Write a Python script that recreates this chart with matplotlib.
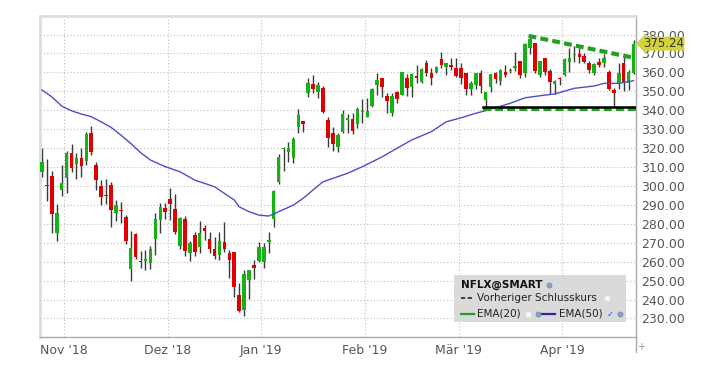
import matplotlib
matplotlib.use("Agg")
import matplotlib.pyplot as plt
from matplotlib.lines import Line2D
from matplotlib.patches import Rectangle
from matplotlib.ticker import FormatStrFormatter
import matplotlib.transforms as mtransforms
import numpy as np
import pandas as pd

GREEN, RED, WICK = "#14b214", "#e00000", "#3a3a3a"
EMA_BLUE = "#4e4ec8"
TREND_GREEN = "#22a022"
GRID = "#bdbdbd"
TXT = "#555555"

# NFLX daily candles, 25 Oct 2018 .. 22 Apr 2019 (trading days only)
holidays = ["2018-11-22", "2018-12-05", "2018-12-25", "2019-01-01",
            "2019-01-21", "2019-02-18", "2019-04-19"]
dates = pd.bdate_range("2018-10-25", "2019-04-22")
dates = dates[~dates.isin(pd.to_datetime(holidays))]

opens = [307.5, 300.5, 305.2, 275.3, 297.7, 304.4, 317.6, 311.6, 314.6, 313.2,
         328.1, 311.0, 300.0, 295.0, 300.5, 285.5, 287.1, 283.8, 256.0, 274.6,
         260.0, 260.5, 259.5, 272.0, 282.0, 288.2, 293.1, 287.8, 268.3, 282.3,
         264.4, 274.1, 267.9, 277.6, 271.8, 266.7, 263.5, 270.2, 264.7, 265.3,
         242.4, 234.5, 250.3, 258.2, 260.5, 260.0, 270.3, 282.3, 302.0, 319.3,
         318.1, 314.9, 331.3, 334.3, 349.2, 353.8, 349.8, 351.5, 334.8, 327.8,
         320.4, 328.6, 335.0, 335.5, 333.0, 339.0, 336.6, 342.4, 353.3, 356.9,
         347.5, 338.7, 349.5, 348.0, 356.9, 352.1, 358.1, 355.1, 364.8, 359.8,
         360.0, 367.1, 363.0, 363.7, 362.1, 362.2, 359.5, 351.2, 353.3, 359.9,
         345.3, 352.1, 359.5, 355.6, 360.4, 360.9, 362.2, 366.2, 359.5, 372.7,
         375.4, 358.6, 367.4, 360.7, 353.8, 356.9, 358.6, 365.7, 369.1, 369.7,
         368.7, 365.1, 359.9, 365.7, 364.8, 360.4, 350.7, 354.2, 364.8, 354.6,
         359.5]
highs = [319.9, 314.0, 307.9, 290.5, 311.0, 318.4, 322.0, 317.2, 319.9, 328.7,
         331.8, 312.8, 303.1, 303.5, 302.3, 292.6, 291.7, 284.6, 276.4, 275.3,
         265.6, 266.1, 268.3, 285.9, 290.8, 290.8, 298.7, 295.7, 283.8, 284.3,
         271.1, 275.5, 281.6, 279.3, 275.8, 273.2, 275.8, 280.8, 266.1, 265.3,
         248.5, 255.6, 255.6, 260.9, 270.5, 269.8, 275.8, 297.8, 316.8, 320.6,
         323.4, 325.7, 340.6, 334.5, 356.8, 358.6, 355.1, 352.9, 336.6, 331.3,
         327.8, 340.1, 338.0, 338.3, 341.9, 345.8, 346.3, 351.6, 359.9, 356.9,
         348.9, 348.9, 350.3, 360.0, 359.1, 359.5, 363.9, 362.1, 366.5, 362.1,
         363.4, 370.9, 365.1, 367.4, 367.4, 364.8, 359.9, 355.6, 359.6, 361.3,
         349.8, 358.9, 360.4, 361.6, 363.9, 362.2, 371.0, 366.2, 375.4, 378.5,
         375.4, 366.2, 367.8, 361.6, 356.0, 357.8, 367.4, 372.7, 373.9, 372.7,
         370.1, 366.2, 364.8, 367.4, 369.7, 361.3, 351.6, 364.8, 368.3, 361.3,
         377.1]
lows = [304.9, 292.2, 275.0, 270.9, 294.7, 296.4, 307.5, 303.5, 304.9, 311.0,
        316.3, 297.8, 289.9, 290.5, 278.1, 281.6, 280.2, 269.3, 250.0, 261.2,
        256.8, 255.6, 255.9, 263.5, 275.3, 282.5, 282.0, 274.6, 266.7, 263.1,
        260.5, 263.0, 264.7, 271.4, 264.4, 261.2, 260.9, 264.9, 251.2, 241.1,
        233.6, 231.3, 240.1, 250.7, 259.6, 256.6, 264.4, 278.5, 301.0, 307.9,
        312.8, 312.3, 328.1, 328.6, 346.8, 348.9, 346.3, 338.7, 320.4, 318.4,
        318.1, 328.1, 328.1, 327.4, 330.4, 333.1, 336.3, 341.9, 348.1, 346.8,
        338.7, 337.0, 343.7, 348.0, 347.5, 347.2, 354.2, 354.2, 358.1, 353.3,
        359.5, 362.5, 358.6, 361.3, 357.4, 353.9, 348.1, 348.1, 351.1, 349.3,
        341.5, 349.8, 354.2, 353.4, 357.7, 359.5, 360.9, 356.9, 357.4, 369.7,
        359.9, 357.4, 358.6, 348.6, 348.6, 353.4, 358.3, 360.4, 365.7, 364.8,
        364.8, 359.5, 358.6, 363.0, 363.0, 350.7, 341.6, 351.1, 350.4, 350.7,
        359.1]
closes = [312.8, 300.0, 285.2, 285.5, 301.7, 317.2, 309.3, 314.9, 310.7, 327.4,
          318.1, 303.1, 294.0, 294.7, 287.3, 289.9, 286.9, 271.1, 267.0, 262.6,
          259.6, 261.4, 266.7, 282.5, 288.7, 286.4, 290.3, 275.5, 282.9, 265.6,
          270.0, 265.3, 275.0, 276.4, 266.7, 263.2, 270.9, 266.7, 260.9, 246.4,
          234.1, 253.5, 255.6, 256.5, 267.6, 267.7, 271.2, 297.6, 315.3, 320.3,
          320.0, 324.6, 337.5, 333.0, 354.6, 351.4, 353.2, 339.1, 325.2, 322.0,
          326.7, 338.0, 335.7, 328.9, 340.6, 339.5, 339.8, 351.3, 355.8, 352.2,
          344.7, 347.6, 345.7, 360.0, 351.8, 359.1, 356.9, 361.9, 359.9, 357.0,
          363.0, 363.9, 365.0, 362.9, 358.1, 357.3, 351.0, 354.3, 359.6, 352.6,
          349.7, 358.9, 356.3, 361.2, 358.8, 361.5, 363.4, 358.8, 375.2, 377.9,
          361.0, 366.0, 360.3, 354.7, 355.2, 356.6, 367.0, 367.7, 369.8, 367.9,
          365.5, 361.4, 364.7, 363.9, 367.7, 351.1, 348.9, 359.5, 354.7, 360.4,
          375.24]

# EMA(50) (candle index, value)
ema_idx = [0, 2, 4, 6, 8, 10, 12, 14, 16, 18, 20, 22, 25, 28, 31, 35, 39, 40,
           42, 44, 46, 48, 51, 53, 55, 57, 59, 62, 65, 69, 72, 75, 79, 82, 85,
           88, 91, 95, 98, 102, 104, 108, 112, 114, 117, 120]
ema50 = [350.7, 347.1, 342.2, 339.7, 338.0, 336.6, 333.9, 331.0, 326.9, 322.5,
         317.6, 313.7, 310.2, 307.5, 303.1, 299.6, 292.6, 289.0, 286.4, 284.6,
         284.1, 286.4, 289.9, 293.5, 297.9, 302.2, 304.0, 306.7, 310.2, 315.4,
         319.9, 324.3, 328.7, 333.9, 336.0, 338.4, 340.5, 343.7, 346.6, 348.0,
         348.6, 351.6, 352.8, 354.2, 354.2, 355.6]

# drawn trend lines
resist_idx, resist_val = [98.7, 119.9], [379.3, 367.8]
support_idx = [89.4, 120.5]
support_val = 341.9

last_price = 375.24
month_names = {11: "Nov", 12: "Dez", 1: "Jan", 2: "Feb", 3: "Mär", 4: "Apr"}

W, H = 720, 367


def fx(x):
    return x / W


def fy(y):
    return 1 - y / H


fig = plt.figure(figsize=(7.2, 3.67), dpi=100)
ax = fig.add_axes([fx(40), fy(337), 596 / W, 321 / H])

x = np.arange(len(dates))
o, h, l, c = map(np.array, (opens, highs, lows, closes))
cols = np.where(c >= o, GREEN, RED)

ax.vlines(x, l, h, color=WICK, lw=1.0, zorder=2)
ax.bar(x, np.maximum(np.abs(c - o), 0.6), bottom=np.minimum(o, c),
       width=0.72, color=cols, lw=0, zorder=3)

ax.plot(ema_idx, ema50, color=EMA_BLUE, lw=1.0, zorder=4)

ax.plot(resist_idx, resist_val, color=TREND_GREEN, lw=3,
        ls=(0, (1.9, 1.0)), zorder=5, solid_capstyle="butt")
ax.plot(support_idx, [support_val - 1.1] * 2, color=TREND_GREEN, lw=3,
        ls=(0, (1.9, 1.0)), zorder=5)
ax.plot(support_idx, [support_val] * 2, color="black", lw=1.8, zorder=6)

# month boundaries
bounds = [i - 0.5 for i in range(1, len(dates))
          if dates[i].month != dates[i - 1].month]
labels = [f"{month_names[dates[int(b + 0.5)].month]} '{dates[int(b + 0.5)].year % 100}"
          for b in bounds]
ax.set_xticks(bounds)
ax.set_xticklabels(labels)
ax.set_xlim(-0.4, 120.5)

ax.set_ylim(220.2, 389.8)
ax.set_yticks(np.arange(230, 381, 10))
ax.yaxis.tick_right()
ax.yaxis.set_major_formatter(FormatStrFormatter("%.2f"))

ax.grid(True, color=GRID, ls=(0, (1, 2)), lw=0.8)
ax.set_axisbelow(True)
ax.tick_params(axis="both", length=0, labelsize=9, colors=TXT)
ax.tick_params(axis="x", pad=5)
ax.tick_params(axis="y", pad=4)

for s in ("top", "left"):
    ax.spines[s].set_color("#dddddd")
    ax.spines[s].set_linewidth(2)
for s in ("bottom", "right"):
    ax.spines[s].set_color("#aaaaaa")
    ax.spines[s].set_linewidth(1)
fig.add_artist(Line2D([fx(636), fx(636)], [fy(337), fy(352)],
                      color="#aaaaaa", lw=1))
fig.text(fx(641), fy(347), "+", fontsize=7, color="#999999",
         ha="center", va="center")

# last price tag
trans = mtransforms.blended_transform_factory(ax.transAxes, ax.transData)
ax.text(1.0 + 7 / 596, last_price, f"{last_price:.2f}", transform=trans,
        fontsize=8.5, color="#333333", ha="left", va="center", zorder=10,
        bbox=dict(boxstyle="larrow,pad=0.04", fc="#d3d33a", ec="none"))

# legend box
fig.add_artist(Rectangle((fx(454), fy(322)), 172 / W, 47 / H,
                         transform=fig.transFigure, fc="#dadada", ec="none"))
fs = 7.5
fig.text(fx(461), fy(284.5), "NFLX@SMART", fontsize=fs, weight="bold",
         color="#111111", va="center")
fig.text(fx(477), fy(298), "Vorheriger Schlusskurs", fontsize=fs,
         color="#222222", va="center")
fig.text(fx(477), fy(314), "EMA(20)", fontsize=fs, color="#222222", va="center")
fig.text(fx(558.5), fy(314), "EMA(50)", fontsize=fs, color="#222222", va="center")
fig.add_artist(Line2D([fx(461), fx(474)], [fy(298)] * 2, color="#222222",
                      lw=1.2, ls=(0, (2.5, 1.5))))
fig.add_artist(Line2D([fx(461), fx(474)], [fy(314)] * 2, color=TREND_GREEN,
                      lw=1.6))
fig.add_artist(Line2D([fx(542), fx(555)], [fy(314)] * 2, color="#2a2a9a",
                      lw=1.6))
for px_, py_ in [(607, 298), (528, 314)]:
    fig.add_artist(Line2D([fx(px_)], [fy(py_)], marker="s", ms=3.5,
                          color="white", mec="#eeeeee"))
for px_, py_ in [(549, 284.5), (538, 314), (620, 314)]:
    fig.add_artist(Line2D([fx(px_)], [fy(py_)], marker="o", ms=3.5,
                          color="#8aa6c8", mec="#6d87a8", mew=0.6))
fig.text(fx(610.5), fy(314), "✓", fontsize=6, color="#2060d0",
         ha="center", va="center")

fig.savefig("out.png", dpi=100)
